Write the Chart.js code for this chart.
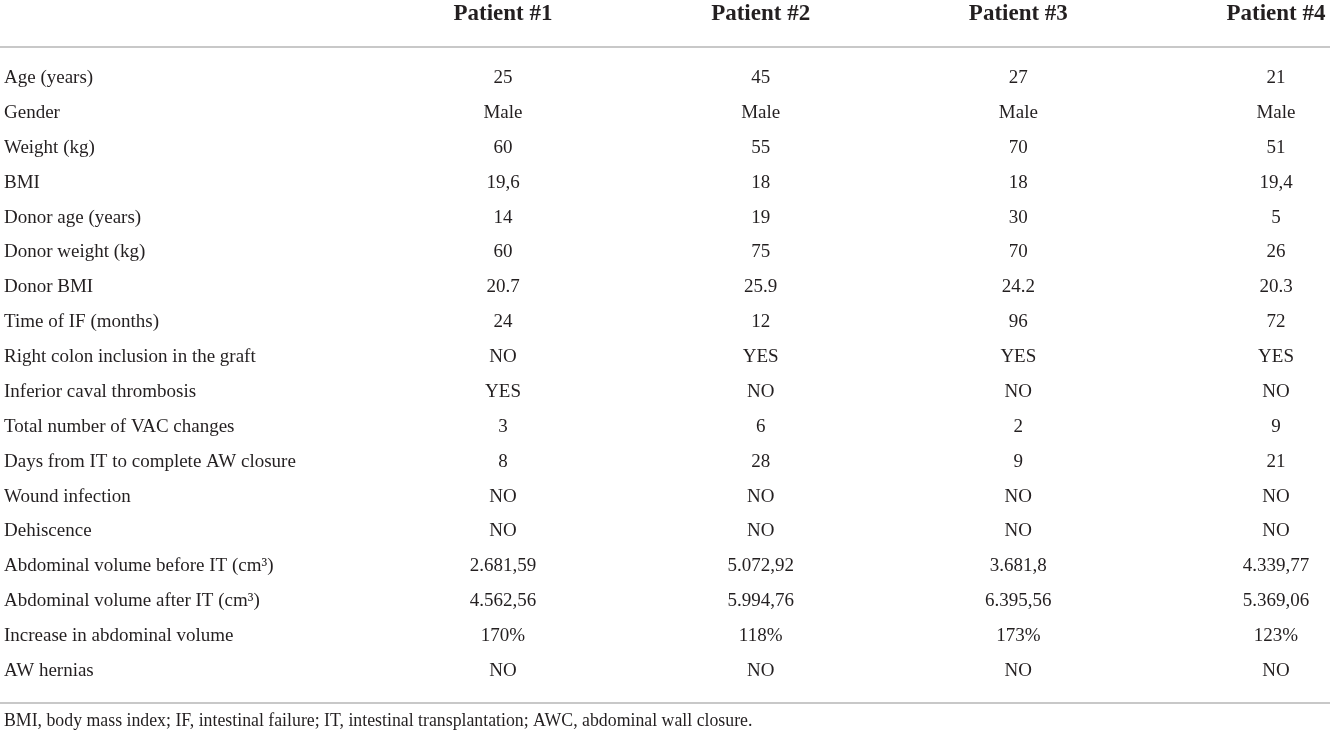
<!DOCTYPE html>
<html lang="en">

<head>
    <meta charset="UTF-8">
    <script src="https://cdn.jsdelivr.net/npm/chart.js"></script>
    <title>Patients table</title>
    <style>
        html, body { margin: 0; padding: 0; background: #fff; }
        .box { width: 1330px; height: 735px; }
    </style>
</head>

<body>
    <div class="box">
        <canvas id="myChart-tabela"></canvas>
    </div>
</body>

</html>
<script>
    // row names, column names and the cells of each patient
    var categorias = [
        'Age (years)', 'Gender', 'Weight (kg)', 'BMI', 'Donor age (years)',
        'Donor weight (kg)', 'Donor BMI', 'Time of IF (months)',
        'Right colon inclusion in the graft', 'Inferior caval thrombosis',
        'Total number of VAC changes', 'Days from IT to complete AW closure',
        'Wound infection', 'Dehiscence', 'Abdominal volume before IT (cm³)',
        'Abdominal volume after IT (cm³)', 'Increase in abdominal volume', 'AW hernias'
    ];
    var pacientes = ['Patient #1', 'Patient #2', 'Patient #3', 'Patient #4'];

    var paciente1 = ['25', 'Male', '60', '19,6', '14', '60', '20.7', '24', 'NO', 'YES', '3', '8', 'NO', 'NO', '2.681,59', '4.562,56', '170%', 'NO'];
    var paciente2 = ['45', 'Male', '55', '18', '19', '75', '25.9', '12', 'YES', 'NO', '6', '28', 'NO', 'NO', '5.072,92', '5.994,76', '118%', 'NO'];
    var paciente3 = ['27', 'Male', '70', '18', '30', '70', '24.2', '96', 'YES', 'NO', '2', '9', 'NO', 'NO', '3.681,8', '6.395,56', '173%', 'NO'];
    var paciente4 = ['21', 'Male', '51', '19,4', '5', '26', '20.3', '72', 'YES', 'NO', '9', '21', 'NO', 'NO', '4.339,77', '5.369,06', '123%', 'NO'];

    var rodape = 'BMI, body mass index; IF, intestinal failure; IT, intestinal transplantation; AWC, abdominal wall closure.';

    var colunas = [paciente1, paciente2, paciente3, paciente4];
    var fonteTexto = 'Liberation Serif';

    // one invisible dataset per patient, the plugin writes the cell text on each point
    var datasets = colunas.map(function (valores, c) {
        return {
            label: pacientes[c],
            data: categorias.map(function (cat) { return { x: pacientes[c], y: cat }; }),
            showLine: false,
            pointRadius: 0,
            pointHoverRadius: 0
        };
    });

    const textoCelulas = {
        id: 'textoCelulas',
        afterDatasetsDraw(chart) {
            const ctx = chart.ctx;
            ctx.save();
            ctx.fillStyle = '#231f20';
            ctx.font = '19px "' + fonteTexto + '"';
            ctx.textAlign = 'center';
            ctx.textBaseline = 'middle';
            colunas.forEach(function (valores, i) {
                chart.getDatasetMeta(i).data.forEach(function (pt, j) {
                    ctx.fillText(valores[j], pt.x, pt.y);
                });
            });
            ctx.restore();
        },
        afterDraw(chart) {
            const ctx = chart.ctx;
            const y = chart.scales.y;
            const topo = y.getPixelForValue(0) - 31;
            const base = y.getPixelForValue(categorias.length - 1) + 32;
            ctx.save();
            ctx.strokeStyle = '#c8c8c8';
            ctx.lineWidth = 2;
            ctx.beginPath();
            ctx.moveTo(0, topo);
            ctx.lineTo(chart.width, topo);
            ctx.moveTo(0, base);
            ctx.lineTo(chart.width, base);
            ctx.stroke();
            ctx.fillStyle = '#231f20';
            ctx.font = '17.8px "' + fonteTexto + '"';
            ctx.textAlign = 'left';
            ctx.textBaseline = 'middle';
            ctx.fillText(rodape, 4, base + 18);
            ctx.restore();
        }
    };

    const ctx = document.getElementById('myChart-tabela');

    var tabela = new Chart(ctx, {
        type: 'line',
        data: {
            labels: pacientes,
            datasets: datasets
        },
        plugins: [textoCelulas],
        options: {
            responsive: true,
            maintainAspectRatio: false,
            animation: false,
            events: [],
            layout: {
                padding: { left: 4, right: 54, top: 0, bottom: 64 }
            },
            plugins: {
                legend: { display: false },
                tooltip: { enabled: false }
            },
            scales: {
                x: {
                    type: 'category',
                    position: 'top',
                    labels: pacientes,
                    offset: false,
                    border: { display: false },
                    grid: { display: false, drawTicks: false },
                    ticks: {
                        color: '#231f20',
                        padding: 50,
                        maxRotation: 0,
                        autoSkip: false,
                        font: { family: fonteTexto, size: 23, weight: 'bold' }
                    },
                    afterFit: function (scale) {
                        scale.height = 78;
                        scale.paddingLeft = 0;
                        scale.paddingRight = 0;
                    }
                },
                y: {
                    type: 'category',
                    labels: categorias,
                    offset: false,
                    border: { display: false },
                    grid: { display: false, drawTicks: false },
                    ticks: {
                        color: '#231f20',
                        crossAlign: 'far',
                        padding: 0,
                        autoSkip: false,
                        font: { family: fonteTexto, size: 19 }
                    },
                    afterFit: function (scale) { scale.width = 499; }
                }
            }
        }
    });
</script>
